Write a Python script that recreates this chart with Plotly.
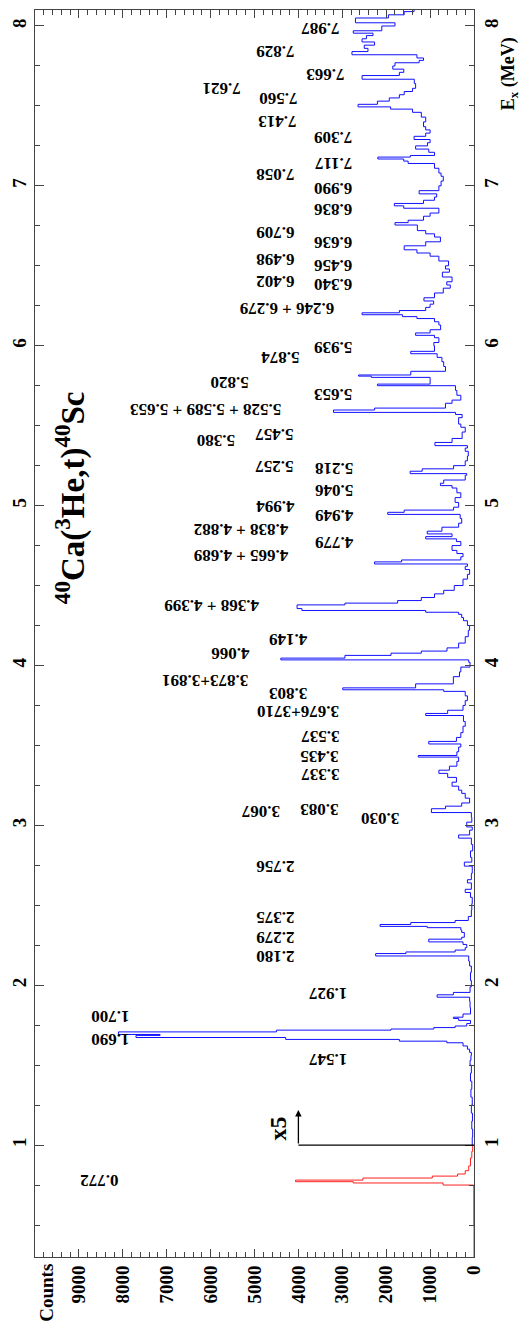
import plotly.graph_objects as go

# ---------------- data ----------------
# blue spectrum: lower bin edge in Ex (MeV) and counts
ex_blue = [1.00, 1.05, 1.10, 1.15, 1.20, 1.25, 1.30, 1.35, 1.40, 1.45, 1.50, 1.53, 1.56, 1.58,
           1.60, 1.62, 1.64, 1.650, 1.661, 1.673, 1.686, 1.692, 1.708, 1.719, 1.726, 1.735, 1.745,
           1.76, 1.78, 1.792, 1.80, 1.82, 1.86, 1.90, 1.925, 1.940, 1.955, 1.99, 2.03, 2.08, 2.12,
           2.15, 2.183, 2.198, 2.208, 2.22, 2.235, 2.255, 2.271, 2.288, 2.30, 2.33, 2.345, 2.360,
           2.368, 2.380, 2.392, 2.405, 2.43, 2.47, 2.51, 2.55, 2.58, 2.60, 2.64, 2.66, 2.70, 2.745,
           2.77, 2.80, 2.84, 2.88, 2.92, 2.94, 2.97, 2.99, 3.02, 3.05, 3.08, 3.104, 3.12, 3.14, 3.17,
           3.20, 3.22, 3.245, 3.27, 3.30, 3.325, 3.345, 3.37, 3.40, 3.427, 3.437, 3.46, 3.49, 3.509,
           3.525, 3.55, 3.58, 3.62, 3.650, 3.687, 3.70, 3.72, 3.75, 3.78, 3.81, 3.838, 3.848, 3.860,
           3.885, 3.93, 3.96, 3.99, 4.02, 4.035, 4.046, 4.063, 4.077, 4.09, 4.11, 4.14, 4.18, 4.22,
           4.25, 4.28, 4.30, 4.32, 4.333, 4.344, 4.356, 4.379, 4.390, 4.406, 4.425, 4.448, 4.47,
           4.50, 4.54, 4.57, 4.60, 4.62, 4.635, 4.648, 4.66, 4.68, 4.70, 4.72, 4.75, 4.775, 4.792,
           4.806, 4.823, 4.840, 4.865, 4.89, 4.92, 4.945, 4.958, 4.972, 4.99, 5.02, 5.05, 5.08,
           5.11, 5.125, 5.14, 5.16, 5.19, 5.200, 5.215, 5.23, 5.25, 5.28, 5.31, 5.34, 5.36, 5.375,
           5.395, 5.42, 5.46, 5.49, 5.51, 5.55, 5.57, 5.583, 5.598, 5.610, 5.64, 5.66, 5.69, 5.72,
           5.750, 5.760, 5.780, 5.802, 5.810, 5.817, 5.84, 5.87, 5.90, 5.927, 5.950, 5.965, 6.00,
           6.02, 6.05, 6.065, 6.08, 6.10, 6.13, 6.15, 6.17, 6.182, 6.194, 6.206, 6.22, 6.24, 6.26,
           6.28, 6.30, 6.33, 6.36, 6.38, 6.40, 6.43, 6.46, 6.48, 6.50, 6.53, 6.56, 6.58, 6.60, 6.625,
           6.65, 6.68, 6.70, 6.72, 6.755, 6.770, 6.785, 6.81, 6.83, 6.86, 6.875, 6.89, 6.91, 6.93,
           6.95, 6.97, 7.00, 7.03, 7.06, 7.08, 7.11, 7.14, 7.155, 7.168, 7.18, 7.19, 7.21, 7.23,
           7.25, 7.27, 7.29, 7.31, 7.33, 7.35, 7.37, 7.40, 7.43, 7.46, 7.480, 7.494, 7.51, 7.53,
           7.55, 7.57, 7.59, 7.61, 7.64, 7.667, 7.69, 7.71, 7.73, 7.75, 7.77, 7.785, 7.80, 7.82,
           7.84, 7.86, 7.88, 7.90, 7.92, 7.94, 7.955, 7.97, 8.00, 8.02, 8.05, 8.07, 8.09, 8.12]
counts_blue = [40, 30, 50, 35, 60, 40, 70, 50, 80, 60, 90, 70, 60, 100,
               150, 250, 620, 1700, 4290, 7700, 7150, 8100, 4500, 1890, 915, 430, 165,
               80, 350, 470, 250, 80, 90, 100, 840, 470, 90, 60, 80, 60, 100,
               120, 2240, 1550, 430, 200, 165, 250, 1030, 280, 220, 280, 300, 1065,
               2140, 1440, 430, 130, 60, 50, 40, 80, 200, 60, 150, 60, 40, 220,
               50, 80, 30, 60, 350, 100, 40, 165, 50, 60, 970, 650, 280, 100, 200,
               280, 350, 500, 400, 600, 800, 560, 390, 350, 1270, 390, 350, 300, 1030,
               400, 300, 250, 200, 240, 1100, 600, 250, 200, 150, 200, 690, 2990, 1330,
               470, 330, 300, 90, 120, 4400, 2940, 1890, 1200, 615, 350, 200, 130, 100,
               150, 240, 280, 350, 1100, 3920, 4030, 2940, 1740, 1200, 900, 690, 450,
               250, 150, 100, 200, 150, 2265, 1650, 300, 250, 390, 500, 300, 400, 1100,
               500, 1065, 730, 350, 280, 315, 1965, 1590, 465, 350, 430, 300, 390,
               500, 765, 690, 200, 165, 1455, 1180, 465, 200, 150, 130, 200, 150, 890,
               500, 270, 200, 300, 350, 270, 420, 3200, 2265, 650, 500, 300, 390, 420,
               2200, 1000, 1000, 2340, 2630, 1440, 650, 690, 730, 840, 1440, 900, 915,
               800, 900, 1330, 1000, 760, 800, 900, 1300, 1630, 2550, 1700, 1100, 1000, 920,
               1140, 900, 700, 540, 620, 500, 720, 560, 650, 580, 800, 1000, 1300, 1590, 1100,
               765, 900, 1100, 1290, 1800, 1500, 1150, 1000, 800, 1600, 1815, 1150, 900, 850,
               1250, 800, 750, 700, 750, 800, 900, 1500, 1600, 2190, 1450, 900, 1030, 1330,
               1060, 1000, 1365, 1100, 1000, 1100, 1150, 1100, 1200, 1400, 1900, 2640, 2200, 1930,
               1700, 1590, 1400, 1330, 1360, 2550, 1700, 1600, 1850, 1800, 1250, 1150, 1300, 2780,
               2415, 2500, 2265, 2550, 2450, 2300, 2750, 2100, 1800, 2700, 1950, 1590, 1365, 1365]

# red spectrum (below 1 MeV, scaled x5)
ex_red = [0.30, 0.50, 0.74, 0.750, 0.763, 0.771, 0.781, 0.794, 0.806, 0.819, 0.84, 0.87, 0.92, 0.96, 1.00]
counts_red = [0, 5, 10, 705, 2750, 4065, 2530, 950, 375, 200, 120, 80, 50, 30, 30]

# peak labels and where they sit (counts, Ex)
peak_text = ["7.987", "7.829", "7.663", "7.621", "7.560", "7.413", "7.309", "7.117", "7.058",
             "6.990", "6.836", "6.709", "6.636", "6.498", "6.456", "6.402", "6.340",
             "6.246 + 6.279", "5.939", "5.874", "5.820", "5.653", "5.528 + 5.589 + 5.653",
             "5.457", "5.380", "5.257", "5.218", "5.046", "4.994", "4.949", "4.838 + 4.882",
             "4.779", "4.665 + 4.689", "4.368 + 4.399", "4.149", "4.066", "3.873+3.891",
             "3.803", "3.676+3710", "3.537", "3.435", "3.337", "3.083", "3.067", "3.030",
             "2.756", "2.375", "2.279", "2.180", "1.927", "1.700", "1.690", "1.547", "0.772"]
peak_cnt = [3513, 4527, 3378, 5743, 4459, 4481, 3198, 3198, 4527,
            3198, 3198, 4527, 3198, 4527, 3198, 4527, 3198,
            4256, 3198, 4414, 5562, 3198, 6103,
            4549, 5878, 4549, 3175, 3175, 4527, 3175, 5315,
            3175, 5315, 5968, 4234, 5540, 6125,
            4234, 4009, 3513, 3513, 3513, 3513, 4864, 2139,
            4527, 4527, 4527, 4527, 3333, 8287, 8287, 3333, 8535]
peak_ex = [7.9875, 7.844, 7.70, 7.6125, 7.55, 7.406, 7.306, 7.144, 7.075,
           6.9875, 6.856, 6.7125, 6.65, 6.544, 6.506, 6.406, 6.3875,
           6.2375, 5.9875, 5.931, 5.769, 5.694, 5.60,
           5.444, 5.406, 5.244, 5.231, 5.094, 4.994, 4.9375, 4.85,
           4.769, 4.6875, 4.375, 4.1625, 4.075, 3.906,
           3.825, 3.7125, 3.556, 3.431, 3.319, 3.10, 3.0875, 3.044,
           2.744, 2.425, 2.30, 2.175, 1.944, 1.80, 1.656, 1.531, 0.775]

count_ticks = [0, 1000, 2000, 3000, 4000, 5000, 6000, 7000, 8000, 9000]
ex_ticks = [1, 2, 3, 4, 5, 6, 7, 8]

FONT = "Liberation Serif, Times New Roman, serif"
AX = "#444444"

fig = go.Figure()
fig.add_trace(go.Scatter(x=counts_red, y=ex_red, mode="lines", line=dict(color="#ff2020", width=1, shape="vh"),
                         hoverinfo="skip"))
fig.add_trace(go.Scatter(x=counts_blue, y=ex_blue, mode="lines", line=dict(color="#1010ff", width=1, shape="vh"),
                         hoverinfo="skip"))
# dummy trace to activate right axis
fig.add_trace(go.Scatter(x=[0], y=[1], yaxis="y2", mode="markers", marker=dict(opacity=0), hoverinfo="skip"))

# x5 marker: horizontal line and arrow
fig.add_shape(type="line", x0=0, x1=4000, y0=1.0, y1=1.0, xref="x", yref="y", line=dict(color="black", width=1.3))
fig.add_annotation(x=4000, y=1.22, ax=4000, ay=1.0, xref="x", yref="y", axref="x", ayref="y",
                   showarrow=True, arrowhead=2, arrowsize=1, arrowwidth=1.3, arrowcolor="black", text="")
fig.add_annotation(x=4459, y=1.106, xref="x", yref="y", text="x5", showarrow=False, textangle=-90,
                   xanchor="center", yanchor="middle",
                   font=dict(family=FONT, size=24, color="black", weight="bold"))

for t, c, e in zip(peak_text, peak_cnt, peak_ex):
    fig.add_annotation(x=c, y=e, xref="x", yref="y", text=t, showarrow=False, textangle=180,
                       xanchor="center", yanchor="middle",
                       font=dict(family=FONT, size=17, color="black", weight="bold"))

fig.add_annotation(x=0.081, y=0.609, xref="paper", yref="paper",
                   text="<sup>40</sup>Ca(<sup>3</sup>He,t)<sup>40</sup>Sc", showarrow=False, textangle=-90,
                   xanchor="center", yanchor="middle",
                   font=dict(family=FONT, size=33, color="black", weight="bold"))
fig.add_annotation(x=1.081, y=0.949, xref="paper", yref="paper", text="E<sub>x</sub> (MeV)",
                   showarrow=False, textangle=-90, xanchor="center", yanchor="middle",
                   font=dict(family=FONT, size=18, color="black", weight="bold"))
fig.add_annotation(x=0.0259, y=-0.0284, xref="paper", yref="paper", text="Counts",
                   showarrow=False, textangle=-90, xanchor="center", yanchor="middle",
                   font=dict(family=FONT, size=19, color="black", weight="bold"))

tickfont = dict(family=FONT, size=19, color="black", weight="bold")
fig.update_layout(
    width=521, height=1327,
    margin=dict(l=30, r=47, t=9, b=70),
    paper_bgcolor="white", plot_bgcolor="white",
    showlegend=False,
    xaxis=dict(range=[10000, 0], tickvals=count_ticks, ticks="inside", ticklen=8, tickcolor=AX,
               showline=True, linecolor=AX, linewidth=1, mirror="ticks", tickangle=-90,
               tickfont=tickfont, showgrid=False, zeroline=False,
               minor=dict(tick0=0, dtick=200, ticks="inside", ticklen=5, tickcolor=AX, showgrid=False)),
    yaxis=dict(range=[0.3, 8.1], tickvals=ex_ticks, ticks="inside", ticklen=9, tickcolor=AX,
               showline=True, linecolor=AX, linewidth=1, tickangle=-90, side="left",
               tickfont=tickfont, showgrid=False, zeroline=False,
               minor=dict(tick0=0, dtick=0.25, ticks="inside", ticklen=5, tickcolor=AX, showgrid=False)),
    yaxis2=dict(range=[0.3, 8.1], tickvals=ex_ticks, ticks="inside", ticklen=9, tickcolor=AX,
                showline=True, linecolor=AX, linewidth=1, tickangle=-90, side="right", overlaying="y",
                tickfont=tickfont, showgrid=False, zeroline=False,
                minor=dict(tick0=0, dtick=0.25, ticks="inside", ticklen=5, tickcolor=AX, showgrid=False)),
)

fig.write_html("out.html")
